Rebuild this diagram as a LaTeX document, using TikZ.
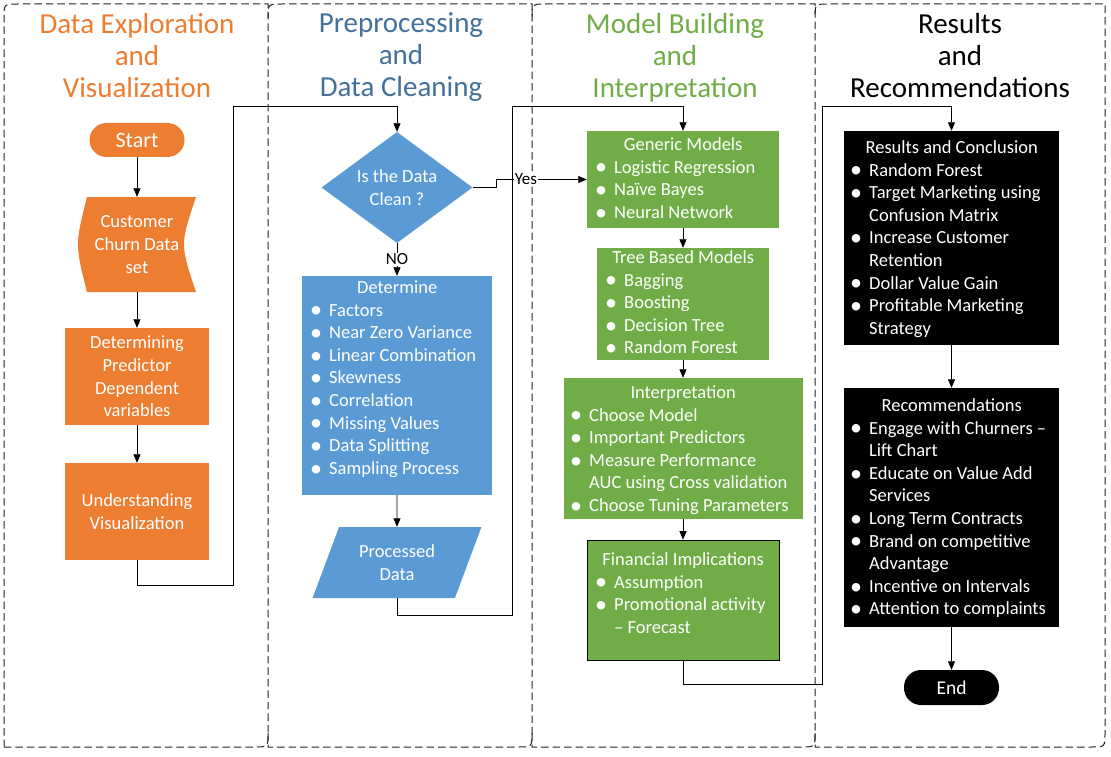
\documentclass[tikz,border=0pt]{standalone}
\usepackage{fontspec}
\setmainfont{Carlito}
\usetikzlibrary{arrows.meta,shapes.geometric}
\definecolor{orng}{HTML}{ED7D31}
\definecolor{blu}{HTML}{5B9BD5}
\definecolor{blut}{HTML}{41719C}
\definecolor{grn}{HTML}{70AD47}
\definecolor{lanec}{HTML}{1E2228}
\newcommand{\bodyfont}{\fontsize{18.5}{22.6}\selectfont}
\newcommand{\bdot}{\raisebox{-0.1em}{\scalebox{1.3}{\textbullet}}}
\newcommand{\bi}[1]{\makebox[19pt][l]{\bdot}#1}
\newcommand{\ci}[1]{\hspace*{19pt}#1}
\newcommand{\hd}[2]{\makebox[#1][c]{\rule{0pt}{15pt}#2}}
\newcommand{\lastln}[1]{\raisebox{0pt}[\height][0pt]{#1}}
\newcommand{\firstln}{\rule{0pt}{20pt}}
\begin{document}
\begin{tikzpicture}[x=1pt,y=-1pt,
  lane/.style={draw=lanec, line width=1pt, dash pattern=on 7.5pt off 4pt},
  ttl/.style={align=center, font=\fontsize{29}{32}\selectfont, inner sep=0},
  box/.style={rectangle, inner sep=0, draw=none},
  lst/.style={anchor=north west, inner sep=0, align=left, font=\bodyfont, text=white},
  ctext/.style={align=center, font=\bodyfont, text=white},
  pill/.style={rectangle, rounded corners=17pt, inner sep=0, text=white},
  arr/.style={draw=black, line width=0.75pt, -{Triangle[length=8.5pt,width=7pt]}},
  lbl/.style={fill=white, inner sep=1pt, font=\fontsize{17}{20}\selectfont, text=black}]
\useasboundingbox (0,0) rectangle (1111,757);
\fill[white] (0,0) rectangle (1111,757);

% lanes
\draw[lane] (4,747) -- (4,18) .. controls (4,4) .. (18,4) -- (268,4) -- (268,733) .. controls (268,747) .. (254,747) -- cycle;
\draw[lane] (268,733) -- (268,747) -- (518,747) .. controls (532,747) .. (532,733) -- (532,4) -- (282,4) .. controls (268,4) .. (268,18);
\draw[lane] (532,733) -- (532,747) -- (801,747) .. controls (815,747) .. (815,733) -- (815,4) -- (546,4) .. controls (532,4) .. (532,18);
\draw[lane] (815,733) -- (815,747) -- (1091,747) .. controls (1105,747) .. (1105,733) -- (1105,4) -- (829,4) .. controls (815,4) .. (815,18);

% titles
\node[ttl, text=orng] (t1) at (137,55) {\firstln Data Exploration\\and\\\lastln{Visualization}};
\node[ttl, text=blut] (t2) at (401,55) {\firstln Preprocessing\\and\\\lastln{Data Cleaning}};
\node[ttl, text=grn] (t3) at (675,55) {\firstln Model Building\\and\\\lastln{Interpretation}};
\node[ttl, text=black] (t4) at (960,55) {\firstln Results\\and\\\lastln{Recommendations}};

% column 1
\node[pill, fill=orng, minimum width=95pt, minimum height=34pt, font=\fontsize{22}{26}\selectfont] (start) at (137,140) {Start};
\fill[orng] (87,197) -- (196,197) .. controls (180,244.5) .. (196,292) -- (87,292) .. controls (75,244.5) .. (87,197) -- cycle;
\node[box, minimum width=100pt, minimum height=95pt, ctext] (cust) at (137,244.5) {Customer\\Churn Data\\set};
\node[box, fill=orng, minimum width=144pt, minimum height=97pt, ctext] (detp) at (137,376.5) {Determining\\Predictor\\Dependent\\variables};
\node[box, fill=orng, minimum width=144pt, minimum height=97pt, ctext] (und) at (137,511.5) {Understanding\\Visualization};

% column 2
\node[diamond, fill=blu, inner sep=0, minimum width=151pt, minimum height=111pt, aspect=1.36, ctext] (dia) at (397,187.5) {Is the Data\\Clean ?};
\node[box, fill=blu, minimum width=190pt, minimum height=219pt] (det) at (397,385.5) {};
\node[lst] (detT) at (310,278.2) {\hd{174pt}{Determine}\\\bi{Factors}\\\bi{Near Zero Variance}\\\bi{Linear Combination}\\\bi{Skewness}\\\bi{Correlation}\\\bi{Missing Values}\\\bi{Data Splitting}\\\bi{Sampling Process}};
\node[trapezium, trapezium left angle=64, trapezium right angle=116, trapezium stretches=true, minimum width=169pt, minimum height=71pt, inner sep=0, fill=blu, ctext] (proc) at (397,562.5) {Processed\\Data};

% column 3
\node[box, fill=grn, minimum width=192pt, minimum height=97pt] (gen) at (683,179.5) {};
\node[lst] (genT) at (595,135.2) {\hd{176pt}{Generic Models}\\\bi{Logistic Regression}\\\bi{Naïve Bayes}\\\bi{Neural Network}};
\node[box, fill=grn, minimum width=172pt, minimum height=112pt] (tree) at (683,304) {};
\node[lst] (treeT) at (605,248.2) {\hd{156pt}{Tree Based Models}\\\bi{Bagging}\\\bi{Boosting}\\\bi{Decision Tree}\\\bi{Random Forest}};
\node[box, fill=grn, minimum width=239pt, minimum height=141pt] (interp) at (683,448.5) {};
\node[lst] (interpT) at (570,383.2) {\hd{226pt}{Interpretation}\\\bi{Choose Model}\\\bi{Important Predictors}\\\bi{Measure Performance}\\\ci{AUC using Cross validation}\\\bi{Choose Tuning Parameters}};
\node[box, fill=grn, draw=black, line width=0.75pt, minimum width=192pt, minimum height=120pt] (fin) at (683,600) {};
\node[lst] (finT) at (595,550.2) {\hd{176pt}{Financial Implications}\\\bi{Assumption}\\\bi{Promotional activity}\\\ci{-- Forecast}};

% column 4
\node[box, fill=black, minimum width=215pt, minimum height=214pt] (res) at (951.5,238) {};
\node[lst] (resT) at (850,138.2) {\hd{203pt}{Results and Conclusion}\\\bi{Random Forest}\\\bi{Target Marketing using}\\\ci{Confusion Matrix}\\\bi{Increase Customer}\\\ci{Retention}\\\bi{Dollar Value Gain}\\\bi{Profitable Marketing}\\\ci{Strategy}};
\node[box, fill=black, minimum width=215pt, minimum height=239pt] (rec) at (951.5,507.5) {};
\node[lst] (recT) at (850,396.2) {\hd{203pt}{Recommendations}\\\bi{Engage with Churners --}\\\ci{Lift Chart}\\\bi{Educate on Value Add}\\\ci{Services}\\\bi{Long Term Contracts}\\\bi{Brand on competitive}\\\ci{Advantage}\\\bi{Incentive on Intervals}\\\bi{Attention to complaints}};
\node[pill, fill=black, minimum width=95pt, minimum height=35pt, font=\fontsize{19.5}{23}\selectfont] (end) at (951.5,687.5) {End};

% junction coordinates
\coordinate (j1) at (233,585);
\coordinate (j2) at (233,106);
\coordinate (j3) at (496,187.5);
\coordinate (j4) at (512,615);
\coordinate (j5) at (512,106);
\coordinate (j6) at (822,684);
\coordinate (j7) at (822,106);

% connectors
\draw[arr] (start.south) -- (cust.north);
\draw[arr] (cust.south) -- (detp.north);
\draw[arr] (detp.south) -- (und.north);
\draw[arr] (und.south) |- (j1) -- (j2) -| (dia.north);
\draw[arr] (dia.south) -- node[lbl] (nolab) {NO} (det.north);
\draw[arr] (dia.east) -- (j3) |- node[lbl, pos=0.665] (yeslab) {Yes} (gen.west);
\draw[arr] (det.south) -- (proc.north);
\draw[arr] (proc.south) |- (j4) -- (j5) -| (gen.north);
\draw[arr] (gen.south) -- (tree.north);
\draw[arr] (tree.south) -- (interp.north);
\draw[arr] (interp.south) -- (fin.north);
\draw[arr] (fin.south) |- (j6) -- (j7) -| (res.north);
\draw[arr] (res.south) -- (rec.north);
\draw[arr] (rec.south) -- (end.north);
\end{tikzpicture}
\end{document}
